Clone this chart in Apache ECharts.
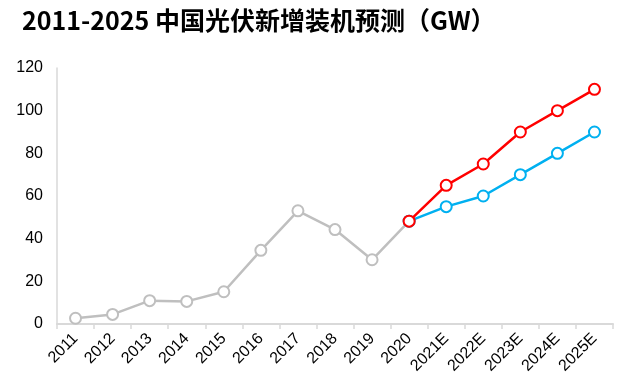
<!DOCTYPE html>
<html><head><meta charset="utf-8">
<script src="https://cdn.jsdelivr.net/npm/echarts@6/dist/echarts.min.js"></script>
<style>html,body{margin:0;padding:0;background:#fff}#c{width:623px;height:386px}</style>
</head><body><div id="c"></div>
<script>
const categories = ['2011','2012','2013','2014','2015','2016','2017','2018','2019','2020','2021E','2022E','2023E','2024E','2025E'];
const history = [2.7, 4.5, 10.95, 10.6, 15.13, 34.54, 53.06, 44.26, 30.11, 48.2, null, null, null, null, null];
const optimistic = [null, null, null, null, null, null, null, null, null, 48.2, 65, 75, 90, 100, 110];
const conservative = [null, null, null, null, null, null, null, null, null, 48.2, 55, 60, 70, 80, 90];
const yTicks = {min: 0, max: 120, interval: 20};
const titleText = '2011-2025 中国光伏新增装机预测（GW）';

const chart = echarts.init(document.getElementById('c'));
function lineSeries(data, color, z) {
  return {
    type: 'line', data: data, z: z,
    symbol: 'circle', symbolSize: 11,
    itemStyle: {color: '#fff', borderColor: color, borderWidth: 2},
    lineStyle: {color: color, width: 2.5},
    connectNulls: false, animation: false
  };
}
chart.setOption({
  animation: false,
  title: {
    text: titleText, left: 17, top: 3,
    textStyle: {fontFamily: 'Noto Sans CJK SC', fontWeight: 'bold', fontSize: 25, color: '#000'}
  },
  grid: {left: 57, right: 10, top: 68, bottom: 62},
  xAxis: {
    type: 'category', data: categories, boundaryGap: true,
    axisLine: {lineStyle: {color: '#d9d9d9', width: 2}},
    axisTick: {show: true, length: 5, lineStyle: {color: '#d9d9d9', width: 1.5}},
    axisLabel: {rotate: 45, interval: 0, color: '#000', fontSize: 16, fontFamily: 'Liberation Sans', margin: 12}
  },
  yAxis: {
    type: 'value', min: yTicks.min, max: yTicks.max, interval: yTicks.interval,
    axisLine: {show: true, lineStyle: {color: '#d9d9d9', width: 1.5}},
    axisTick: {show: false},
    splitLine: {show: false},
    axisLabel: {color: '#000', fontSize: 16, fontFamily: 'Liberation Sans', margin: 14}
  },
  series: [
    lineSeries(history, '#bfbfbf', 2),
    lineSeries(conservative, '#00b0f0', 3),
    lineSeries(optimistic, '#ff0000', 4)
  ]
});
</script></body></html>
